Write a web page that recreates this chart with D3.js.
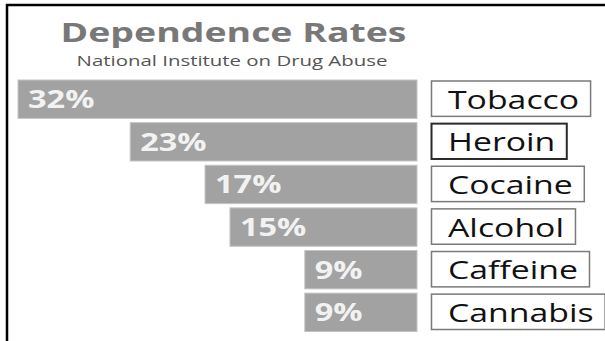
<!DOCTYPE html>
<html lang="en">

<head>
    <meta charset="UTF-8">
    <title>Dependence Rates</title>
    <style>
        body { margin: 0; background: #fff; }
        svg { display: block; font-family: "Open Sans", sans-serif; }
    </style>
</head>

<body>
    <div id="wrapper"></div>
    <script src="https://d3js.org/d3.v7.min.js"></script>
    <script>
        // 資料
        const drugs = ['Tobacco', 'Heroin', 'Cocaine', 'Alcohol', 'Caffeine', 'Cannabis'];
        const rates = [32, 23, 17, 15, 9, 9];
        const title = 'Dependence Rates';
        const subtitle = 'National Institute on Drug Abuse';
        const boxed = 'Heroin';

        let width = 605,
            height = 341,
            barRight = 417,
            barLeft = 18,
            sx = 1.3; // 原圖文字被橫向拉寬

        const svg = d3.select('#wrapper').append('svg')
            .attr('width', width)
            .attr('height', height);

        // 外框(只有上和左)
        svg.append('path')
            .attr('d', `M7,${height} V5 H${width}`)
            .attr('fill', 'none')
            .attr('stroke', '#000')
            .attr('stroke-width', 2.5);

        function stretchedText(g, x, y, txt, anchor, k = sx) {
            return g.append('text')
                .attr('transform', `translate(${x},${y}) scale(${k},1)`)
                .attr('text-anchor', anchor)
                .text(txt);
        }

        // 標題
        stretchedText(svg, 233.5, 41.5, title, 'middle', 1.44)
            .attr('font-size', 26)
            .attr('font-weight', 700)
            .attr('fill', '#787878');
        stretchedText(svg, 232, 66, subtitle, 'middle', 1.36)
            .attr('font-size', 15)
            .attr('fill', '#555');

        // 比例尺
        const x = d3.scaleLinear()
            .domain([0, d3.max(rates)])
            .range([barRight, barLeft]);

        const y = d3.scaleBand()
            .domain(drugs)
            .range([80, 331.5])
            .paddingInner(0.1);

        const rows = svg.selectAll('g.row')
            .data(drugs.map((d, i) => ({ name: d, value: rates[i] })))
            .join('g')
            .attr('class', 'row');

        // 長條(由右往左)
        rows.append('rect')
            .attr('x', d => x(d.value))
            .attr('y', d => y(d.name))
            .attr('width', d => x(0) - x(d.value))
            .attr('height', y.bandwidth())
            .attr('fill', '#a2a2a2')
            .attr('stroke', '#c4c4c4')
            .attr('stroke-width', 1);

        // 百分比
        rows.each(function (d) {
            stretchedText(d3.select(this), x(d.value) + 10, y(d.name) + y.bandwidth() / 2 + 9, d.value + '%', 'start')
                .attr('font-size', 25)
                .attr('font-weight', 700)
                .attr('fill', '#f2f2f2');
        });

        // 右側標籤框
        rows.each(function (d) {
            const g = d3.select(this);
            const box = g.append('rect');
            const t = stretchedText(g, 448, y(d.name) + y.bandwidth() / 2 + 9.5, d.name, 'start')
                .attr('font-size', 26)
                .attr('fill', '#111');
            const w = t.node().getComputedTextLength() * sx;
            box.attr('x', 431.5)
                .attr('y', y(d.name) + 1)
                .attr('width', w + 28)
                .attr('height', y.bandwidth() - 3)
                .attr('fill', '#fff')
                .attr('stroke', d.name === boxed ? '#2a2a2a' : '#7a7a7a')
                .attr('stroke-width', d.name === boxed ? 2 : 1.5);
        });
    </script>
</body>

</html>
